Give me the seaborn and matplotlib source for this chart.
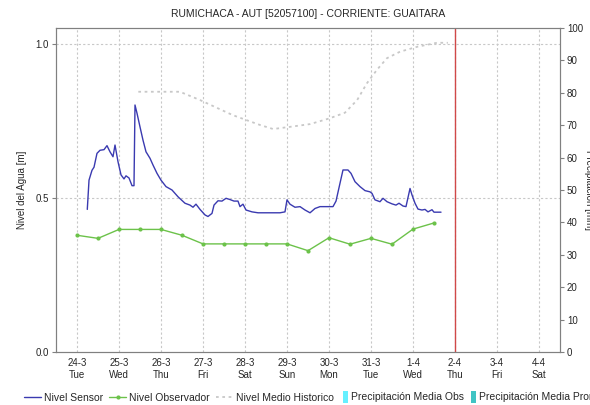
import numpy as np
import pandas as pd
import matplotlib
matplotlib.use('Agg')
import matplotlib.pyplot as plt
import seaborn as sns
from matplotlib.lines import Line2D
from matplotlib.patches import Patch

# Datos (dias desde 24-3)
dias_sensor = [0.245, 0.274, 0.286, 0.357, 0.405, 0.476, 0.548, 0.643, 0.714, 0.786,
               0.857, 0.905, 0.976, 1.048, 1.119, 1.167, 1.238, 1.31, 1.357, 1.381,
               1.429, 1.5, 1.571, 1.643, 1.738, 1.81, 1.905, 2.0, 2.119, 2.262,
               2.405, 2.571, 2.69, 2.762, 2.833, 2.929, 3.048, 3.119, 3.214, 3.262,
               3.357, 3.452, 3.548, 3.643, 3.738, 3.833, 3.881, 3.952, 4.024, 4.167,
               4.31, 4.595, 4.833, 4.952, 5.0, 5.071, 5.19, 5.31, 5.429, 5.548,
               5.667, 5.786, 6.095, 6.13,
               6.167, 6.262, 6.333, 6.452, 6.524, 6.619, 6.738, 6.857, 6.976, 7.024,
               7.095, 7.214, 7.286, 7.381, 7.5, 7.595, 7.667, 7.762, 7.833, 7.929,
               7.976, 8.048, 8.119, 8.214, 8.286, 8.357, 8.452, 8.5, 8.667]
nivel_sensor = [0.463, 0.53, 0.558, 0.59, 0.60, 0.645, 0.655, 0.657, 0.67, 0.65,
                0.634, 0.672, 0.618, 0.575, 0.562, 0.572, 0.565, 0.54, 0.54, 0.802,
                0.775, 0.731, 0.688, 0.65, 0.629, 0.607, 0.58, 0.558, 0.537, 0.526,
                0.504, 0.483, 0.477, 0.47, 0.48, 0.463, 0.445, 0.44, 0.45, 0.477,
                0.491, 0.49, 0.499, 0.495, 0.49, 0.49, 0.472, 0.48, 0.461, 0.455,
                0.452, 0.452, 0.452, 0.455, 0.494, 0.48, 0.47, 0.472, 0.461, 0.452,
                0.466, 0.472, 0.472, np.nan,
                0.49, 0.548, 0.591, 0.591, 0.58, 0.553, 0.537, 0.524, 0.52, 0.515,
                0.494, 0.488, 0.499, 0.488, 0.481, 0.477, 0.483, 0.474, 0.472, 0.531,
                0.51, 0.483, 0.464, 0.461, 0.463, 0.455, 0.462, 0.454, 0.454]

dias_obs = [0, 0.5, 1, 1.5, 2, 2.5, 3, 3.5, 4, 4.5, 5, 5.5, 6, 6.5, 7, 7.5, 8, 8.5]
nivel_obs = [0.379, 0.369, 0.398, 0.398, 0.398, 0.379, 0.351, 0.351, 0.351, 0.351,
             0.351, 0.329, 0.371, 0.350, 0.369, 0.350, 0.399, 0.419]

dias_hist = [1.46, 1.98, 2.45, 2.93, 3.71, 4.36, 4.67, 5.07, 5.55, 6.02, 6.38, 6.67,
             6.90, 7.14, 7.38, 7.69, 8.10, 8.57, 8.83]
nivel_hist = [0.845, 0.845, 0.845, 0.818, 0.769, 0.737, 0.724, 0.731, 0.740, 0.759,
              0.777, 0.818, 0.872, 0.916, 0.954, 0.975, 0.991, 1.004, 1.004]

etiquetas = ['24-3\nTue', '25-3\nWed', '26-3\nThu', '27-3\nFri', '28-3\nSat', '29-3\nSun',
             '30-3\nMon', '31-3\nTue', '1-4\nWed', '2-4\nThu', '3-4\nFri', '4-4\nSat']
dia_actual = 9

sensor = pd.DataFrame({'dia': dias_sensor, 'nivel': nivel_sensor})
obs = pd.DataFrame({'dia': dias_obs, 'nivel': nivel_obs})
hist = pd.DataFrame({'dia': dias_hist, 'nivel': nivel_hist})

sns.set_style('white')
plt.rcParams['font.family'] = ['Liberation Sans', 'DejaVu Sans']

azul = '#3a3ab0'
verde = '#6cc24a'
gris = '#c8c8c8'
rojo = '#d04848'

fig = plt.figure(figsize=(5.9, 4.05), dpi=100)
ax = fig.add_axes([56 / 590, 53 / 405, 504 / 590, 324 / 405])

# rejilla punteada
for d in range(len(etiquetas)):
    ax.axvline(d, color='#c8c8c8', lw=0.8, ls=(0, (2, 2)), zorder=0)
for v in [0.5, 1.0]:
    ax.axhline(v, color='#c8c8c8', lw=0.8, ls=(0, (2, 2)), zorder=0)

sns.lineplot(data=hist, x='dia', y='nivel', ax=ax, color=gris, lw=1.3,
             linestyle=(0, (1.5, 2)), estimator=None, sort=False)
sns.lineplot(data=obs, x='dia', y='nivel', ax=ax, color=verde, lw=1.0,
             marker='o', markersize=3, markeredgewidth=0, estimator=None, sort=False)
sns.lineplot(data=sensor, x='dia', y='nivel', ax=ax, color=azul, lw=1.0,
             estimator=None, sort=False)
ax.axvline(dia_actual, color=rojo, lw=1.0)

ax.set_xlim(-0.5, 11.5)
ax.set_ylim(0, 1.052)
ax.set_xticks(range(len(etiquetas)))
ax.set_xticklabels(etiquetas, fontsize=7, linespacing=1.3)
ax.set_yticks([0.0, 0.5, 1.0])
ax.set_yticklabels(['0.0', '0.5', '1.0'], fontsize=7)
ax.set_xlabel('')
ax.set_ylabel('Nivel del Agua [m]', fontsize=7, labelpad=6)
ax.tick_params(axis='y', length=3, width=0.8, color='#808080', pad=2)
ax.tick_params(axis='x', length=0, pad=4)

ax2 = ax.twinx()
ax2.set_ylim(0, 100)
ax2.set_yticks(range(0, 101, 10))
ax2.set_yticklabels([str(t) for t in range(0, 101, 10)], fontsize=7)
ax2.tick_params(axis='y', length=3, width=0.8, color='#808080', pad=2)
ax2.set_ylabel('Precipitación [mm]', fontsize=7, rotation=270, labelpad=8)

for a in (ax, ax2):
    for s in a.spines.values():
        s.set_color('#808080')
        s.set_linewidth(0.8)
ax.spines['bottom'].set_linestyle((0, (1, 1)))

ax.set_title('RUMICHACA - AUT [52057100] - CORRIENTE: GUAITARA', fontsize=7.5, pad=8)

# leyenda de lineas
lineas = [
    Line2D([], [], color=azul, lw=1.0),
    Line2D([], [], color=verde, lw=1.0, marker='o', markersize=3, markeredgewidth=0),
    Line2D([], [], color=gris, lw=1.3, ls=(0, (1.5, 2))),
]
nombres_lineas = ['Nivel Sensor', 'Nivel Observador', 'Nivel Medio Historico']
fig.legend(lineas, nombres_lineas, loc='lower left', bbox_to_anchor=(17 / 590, -0.012),
           ncol=3, frameon=False, fontsize=7.5, handlelength=1.6, handletextpad=0.3,
           columnspacing=0.6, borderpad=0.2)

# leyenda de precipitacion (cuadritos angostos)
barras = [Patch(facecolor='#66f0ff', edgecolor='none'),
          Patch(facecolor='#40c4c4', edgecolor='none')]
nombres_barras = ['Precipitación Media Obs', 'Precipitación Media Pronosticada']
fig.legend(barras, nombres_barras, loc='lower left', bbox_to_anchor=(336 / 590, -0.012),
           ncol=2, frameon=False, fontsize=7.5, handlelength=0.45, handleheight=1.3,
           handletextpad=0.3, columnspacing=0.7, borderpad=0.2)

fig.savefig('out.png', dpi=100)
